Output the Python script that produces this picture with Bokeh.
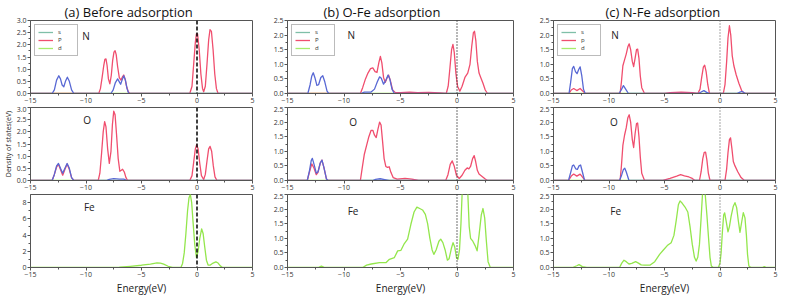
from bokeh.plotting import figure
from bokeh.layouts import row, column
from bokeh.models import Span, Legend, LegendItem, Label, Range1d, FixedTicker, NumeralTickFormatter, Title
from bokeh.embed import file_html
from bokeh.resources import INLINE

# ---------------- data ----------------
TITLES = ["(a) Before adsorption", "(b) O-Fe adsorption", "(c) N-Fe adsorption"]
ELEMENTS = ["N", "O", "Fe"]
LEGEND_LABELS = [["s", "P", "d"], ["s", "P", "d"], ["s", "p", "d"]]
X_TICKS = [-15, -10, -5, 0, 5]
X_MINOR = [-12.5, -7.5, -2.5, 2.5]
Y_MAX = [[3.0, 3.0, 9.0], [2.5, 2.5, 2.5], [2.5, 2.5, 2.5]]
Y_TICKS_3 = [0.0, 0.5, 1.0, 1.5, 2.0, 2.5, 3.0]
Y_TICKS_25 = [0.0, 0.5, 1.0, 1.5, 2.0, 2.5]
Y_TICKS_FE = [0, 2, 4, 6, 8]
XLABEL = "Energy(eV)"
YLABEL = "Density of states(eV)"

# curves as (energy, DOS) points
# (a) Before adsorption
a_N_s = [(-15, 0), (-13.05, 0), (-12.85, 0.15), (-12.65, 0.55), (-12.45, 0.73), (-12.3, 0.6), (-12.15, 0.35), (-12.0, 0.28), (-11.85, 0.5), (-11.68, 0.67), (-11.5, 0.5), (-11.3, 0.15), (-11.1, 0), (-7.75, 0), (-7.55, 0.15), (-7.35, 0.45), (-7.15, 0.6), (-7.0, 0.48), (-6.88, 0.38), (-6.75, 0.55), (-6.6, 0.73), (-6.45, 0.55), (-6.3, 0.2), (-6.15, 0), (5, 0)]
a_N_p = [(-15, 0), (-8.85, 0), (-8.7, 0.2), (-8.55, 0.65), (-8.4, 1.15), (-8.3, 1.4), (-8.2, 1.42), (-8.1, 1.15), (-7.98, 0.6), (-7.85, 0.4), (-7.72, 0.75), (-7.6, 1.35), (-7.48, 1.7), (-7.38, 1.76), (-7.28, 1.6), (-7.15, 1.1), (-7.0, 0.65), (-6.85, 0.55), (-6.72, 0.68), (-6.6, 0.76), (-6.48, 0.6), (-6.35, 0.3), (-6.2, 0.08), (-6.05, 0), (-0.65, 0), (-0.45, 0.3), (-0.3, 1.2), (-0.15, 2.1), (-0.05, 2.45), (0.05, 2.45), (0.2, 1.8), (0.35, 0.8), (0.5, 0.2), (0.6, 0.07), (0.75, 0.3), (0.9, 1.2), (1.05, 2.2), (1.17, 2.62), (1.3, 2.55), (1.45, 1.8), (1.6, 0.8), (1.75, 0.2), (1.9, 0), (5, 0)]
a_N_d = [(-15, 0), (5, 0)]
a_O_s = [(-15, 0), (-13.05, 0), (-12.85, 0.25), (-12.65, 0.6), (-12.48, 0.7), (-12.3, 0.5), (-12.1, 0.3), (-11.9, 0.5), (-11.7, 0.7), (-11.5, 0.5), (-11.3, 0.12), (-11.1, 0), (-8.2, 0), (-7.9, 0.05), (-7.5, 0.08), (-7.0, 0.06), (-6.6, 0.06), (-6.3, 0), (5, 0)]
a_O_p = [(-15, 0), (-13.05, 0), (-12.85, 0.25), (-12.65, 0.55), (-12.48, 0.67), (-12.3, 0.45), (-12.1, 0.22), (-11.9, 0.45), (-11.7, 0.68), (-11.5, 0.45), (-11.3, 0.12), (-11.1, 0), (-8.9, 0), (-8.75, 0.3), (-8.6, 1.1), (-8.45, 2.0), (-8.32, 2.42), (-8.2, 2.2), (-8.05, 1.3), (-7.9, 0.7), (-7.75, 1.2), (-7.62, 2.3), (-7.5, 2.85), (-7.38, 2.7), (-7.25, 1.9), (-7.1, 0.9), (-6.95, 0.38), (-6.82, 0.42), (-6.7, 0.46), (-6.55, 0.35), (-6.4, 0.12), (-6.25, 0), (-0.65, 0), (-0.45, 0.2), (-0.3, 0.75), (-0.15, 1.3), (-0.03, 1.47), (0.1, 1.3), (0.25, 0.7), (0.4, 0.2), (0.6, 0.04), (0.75, 0.25), (0.9, 0.8), (1.05, 1.3), (1.18, 1.4), (1.32, 1.2), (1.47, 0.6), (1.62, 0.15), (1.8, 0), (5, 0)]
a_O_d = [(-15, 0), (5, 0)]
a_Fe_d = [(-15, 0), (-8, 0), (-7, 0.05), (-6, 0.15), (-5, 0.28), (-4.2, 0.42), (-3.6, 0.58), (-3.3, 0.55), (-3.0, 0.42), (-2.6, 0.15), (-2.2, 0), (-1.45, 0), (-1.3, 0.5), (-1.15, 1.8), (-1.0, 4.2), (-0.85, 7.0), (-0.72, 8.6), (-0.6, 9.0), (-0.48, 8.0), (-0.35, 5.5), (-0.2, 2.8), (-0.05, 1.25), (0.1, 2.0), (0.25, 3.6), (0.42, 4.75), (0.55, 4.2), (0.7, 2.5), (0.85, 0.9), (1.0, 0.3), (1.2, 0.3), (1.45, 0.55), (1.7, 0.7), (1.9, 0.55), (2.1, 0.2), (2.3, 0), (5, 0)]

# (b) O-Fe adsorption
b_N_s = [(-15, 0), (-13.2, 0), (-13.0, 0.3), (-12.85, 0.6), (-12.72, 0.71), (-12.58, 0.55), (-12.4, 0.28), (-12.25, 0.3), (-12.05, 0.55), (-11.88, 0.61), (-11.7, 0.4), (-11.5, 0.08), (-11.35, 0), (-8.5, 0), (-8.2, 0.05), (-7.6, 0.05), (-7.3, 0.15), (-7.05, 0.4), (-6.85, 0.57), (-6.7, 0.52), (-6.5, 0.32), (-6.3, 0.45), (-6.1, 0.63), (-5.95, 0.5), (-5.75, 0.15), (-5.55, 0), (5, 0)]
b_N_p = [(-15, 0), (-8.55, 0), (-8.35, 0.2), (-8.1, 0.5), (-7.88, 0.7), (-7.65, 0.85), (-7.45, 0.88), (-7.25, 0.75), (-7.08, 0.72), (-6.92, 1.05), (-6.78, 1.27), (-6.65, 1.05), (-6.5, 0.55), (-6.35, 0.38), (-6.2, 0.52), (-6.05, 0.63), (-5.9, 0.45), (-5.7, 0.12), (-5.45, 0.03), (-5.0, 0.03), (-4.2, 0.05), (-3.5, 0.03), (-2.5, 0.04), (-1.5, 0.02), (-0.95, 0), (-0.78, 0.25), (-0.62, 0.9), (-0.48, 1.5), (-0.36, 1.68), (-0.24, 1.4), (-0.1, 0.7), (0.05, 0.25), (0.25, 0.08), (0.45, 0.25), (0.7, 0.55), (0.95, 0.7), (1.15, 1.0), (1.3, 1.6), (1.45, 2.08), (1.55, 2.13), (1.67, 1.8), (1.8, 1.1), (1.95, 0.7), (2.1, 0.55), (2.3, 0.35), (2.5, 0.12), (2.7, 0), (5, 0)]
b_N_d = [(-15, 0), (5, 0)]
b_O_s = [(-15, 0), (-13.25, 0), (-13.05, 0.35), (-12.9, 0.68), (-12.8, 0.76), (-12.65, 0.55), (-12.45, 0.25), (-12.3, 0.3), (-12.1, 0.6), (-11.95, 0.7), (-11.78, 0.45), (-11.55, 0.05), (-11.4, 0), (-7.5, 0), (-7.2, 0.04), (-6.8, 0.06), (-6.4, 0.03), (-6.0, 0), (5, 0)]
b_O_p = [(-15, 0), (-13.25, 0), (-13.05, 0.3), (-12.85, 0.57), (-12.65, 0.42), (-12.45, 0.2), (-12.3, 0.28), (-12.1, 0.6), (-11.95, 0.7), (-11.78, 0.45), (-11.55, 0.05), (-11.4, 0), (-8.55, 0), (-8.4, 0.4), (-8.2, 0.9), (-8.0, 1.2), (-7.8, 1.5), (-7.6, 1.72), (-7.45, 1.72), (-7.3, 1.55), (-7.15, 1.47), (-7.0, 1.75), (-6.85, 2.0), (-6.72, 1.9), (-6.6, 1.4), (-6.45, 0.75), (-6.3, 0.48), (-6.15, 0.45), (-6.0, 0.47), (-5.85, 0.28), (-5.65, 0.1), (-5.3, 0.05), (-4.6, 0.07), (-4.0, 0.05), (-3.4, 0), (-1.0, 0), (-0.8, 0.2), (-0.6, 0.55), (-0.42, 0.67), (-0.25, 0.5), (-0.05, 0.18), (0.2, 0.07), (0.45, 0.18), (0.7, 0.35), (0.9, 0.43), (1.05, 0.4), (1.2, 0.48), (1.38, 0.75), (1.52, 0.85), (1.65, 0.65), (1.8, 0.35), (1.95, 0.22), (2.25, 0.13), (2.5, 0.05), (2.7, 0), (5, 0)]
b_O_d = [(-15, 0), (5, 0)]
b_Fe_d = [(-15, 0), (-12.3, 0), (-12.0, 0.05), (-11.7, 0), (-8.35, 0), (-8.0, 0.08), (-7.59, 0.12), (-6.86, 0.17), (-6.27, 0.17), (-5.98, 0.28), (-5.54, 0.34), (-5.25, 0.57), (-4.96, 0.59), (-4.66, 0.82), (-4.37, 0.97), (-4.08, 1.48), (-3.8, 1.9), (-3.55, 2.07), (-3.3, 2.02), (-3.05, 1.97), (-2.8, 1.82), (-2.6, 1.5), (-2.4, 1.0), (-2.2, 0.6), (-2.05, 0.45), (-1.85, 0.6), (-1.6, 0.9), (-1.44, 0.97), (-1.25, 0.85), (-1.05, 0.6), (-0.85, 0.25), (-0.7, 0.3), (-0.5, 0.65), (-0.35, 0.85), (-0.2, 0.7), (-0.05, 0.35), (0.08, 0.28), (0.22, 0.6), (0.35, 1.5), (0.46, 2.6), (0.6, 3.3), (0.8, 3.3), (0.95, 2.6), (1.08, 1.4), (1.2, 1.0), (1.4, 0.9), (1.6, 0.75), (1.78, 0.57), (1.95, 1.1), (2.15, 1.8), (2.3, 2.02), (2.45, 1.7), (2.6, 0.9), (2.75, 0.2), (2.95, 0), (5, 0)]

# (c) N-Fe adsorption
c_N_s = [(-15, 0), (-13.6, 0), (-13.45, 0.4), (-13.3, 0.85), (-13.18, 0.93), (-13.02, 0.75), (-12.88, 0.68), (-12.73, 0.82), (-12.6, 0.91), (-12.45, 0.6), (-12.3, 0.15), (-12.15, 0), (-9.1, 0), (-8.9, 0.12), (-8.7, 0.27), (-8.5, 0.15), (-8.25, 0), (-2.0, 0), (-1.7, 0.05), (-1.45, 0.1), (-1.2, 0.04), (-0.9, 0), (1.5, 0), (1.8, 0.05), (2.0, 0.07), (2.3, 0), (5, 0)]
c_N_p = [(-15, 0), (-13.6, 0), (-13.4, 0.12), (-13.18, 0.17), (-12.9, 0.1), (-12.6, 0.17), (-12.35, 0.08), (-12.15, 0), (-9.0, 0), (-8.88, 0.4), (-8.75, 0.95), (-8.6, 1.15), (-8.45, 1.35), (-8.3, 1.6), (-8.18, 1.7), (-8.05, 1.5), (-7.9, 1.1), (-7.78, 0.92), (-7.65, 1.2), (-7.52, 1.5), (-7.42, 1.52), (-7.3, 1.2), (-7.18, 0.6), (-7.05, 0.2), (-6.8, 0), (-5.0, 0), (-4.5, 0.03), (-3.5, 0.05), (-2.5, 0.03), (-2.0, 0), (-1.8, 0.15), (-1.65, 0.55), (-1.5, 0.9), (-1.38, 0.97), (-1.25, 0.75), (-1.1, 0.3), (-0.95, 0), (0.3, 0), (0.45, 0.3), (0.6, 1.1), (0.72, 1.9), (0.85, 2.32), (0.97, 2.0), (1.1, 1.3), (1.25, 0.95), (1.45, 0.65), (1.7, 0.35), (1.95, 0.1), (2.2, 0), (5, 0)]
c_N_d = [(-15, 0), (5, 0)]
c_O_s = [(-15, 0), (-13.65, 0), (-13.45, 0.28), (-13.3, 0.5), (-13.18, 0.53), (-13.0, 0.4), (-12.85, 0.38), (-12.7, 0.5), (-12.56, 0.53), (-12.4, 0.3), (-12.2, 0), (-9.05, 0), (-8.85, 0.2), (-8.7, 0.38), (-8.58, 0.42), (-8.45, 0.3), (-8.2, 0), (5, 0)]
c_O_p = [(-15, 0), (-13.65, 0), (-13.4, 0.15), (-13.18, 0.22), (-12.9, 0.15), (-12.6, 0.22), (-12.35, 0.1), (-12.15, 0), (-9.0, 0), (-8.88, 0.5), (-8.75, 1.2), (-8.6, 1.55), (-8.45, 1.8), (-8.3, 2.15), (-8.18, 2.25), (-8.05, 2.0), (-7.9, 1.4), (-7.78, 1.13), (-7.65, 1.6), (-7.52, 1.95), (-7.42, 1.97), (-7.3, 1.5), (-7.18, 0.8), (-7.05, 0.25), (-6.8, 0), (-5.15, 0), (-4.5, 0.07), (-3.9, 0.15), (-3.55, 0.2), (-3.2, 0.16), (-2.8, 0.12), (-2.5, 0.07), (-2.25, 0), (-1.85, 0), (-1.7, 0.3), (-1.55, 0.75), (-1.42, 0.96), (-1.3, 0.97), (-1.18, 0.7), (-1.05, 0.25), (-0.9, 0), (0.45, 0), (0.6, 0.4), (0.72, 0.95), (0.85, 1.4), (0.95, 1.46), (1.07, 1.1), (1.2, 0.65), (1.35, 0.5), (1.6, 0.3), (1.9, 0.1), (2.2, 0), (5, 0)]
c_O_d = [(-15, 0), (5, 0)]
c_Fe_d = [(-15, 0), (-13.3, 0), (-12.9, 0.06), (-12.7, 0.1), (-12.4, 0.03), (-12.0, 0), (-9.05, 0), (-8.85, 0.15), (-8.65, 0.25), (-8.45, 0.2), (-8.2, 0.12), (-7.95, 0.14), (-7.6, 0.2), (-7.35, 0.15), (-7.1, 0.09), (-6.8, 0.08), (-6.32, 0.08), (-5.88, 0.2), (-5.44, 0.45), (-5.1, 0.6), (-4.75, 0.75), (-4.4, 0.85), (-4.15, 1.1), (-3.95, 1.6), (-3.75, 2.15), (-3.6, 2.28), (-3.4, 2.2), (-3.15, 2.07), (-2.9, 1.9), (-2.7, 1.4), (-2.5, 0.8), (-2.3, 0.35), (-2.15, 0.22), (-2.0, 0.35), (-1.85, 0.8), (-1.7, 1.7), (-1.58, 2.5), (-1.45, 2.6), (-1.33, 2.5), (-1.18, 1.8), (-1.03, 1.0), (-0.9, 0.35), (-0.78, 0.05), (-0.6, 0), (-0.15, 0), (0.0, 0.15), (0.1, 0.5), (0.22, 1.25), (0.33, 1.8), (0.42, 1.87), (0.55, 1.6), (0.72, 1.22), (0.85, 1.4), (1.0, 1.75), (1.2, 2.1), (1.35, 2.22), (1.5, 2.05), (1.65, 1.6), (1.8, 1.2), (1.95, 1.55), (2.1, 1.88), (2.25, 1.7), (2.38, 1.1), (2.48, 0.45), (2.6, 0.05), (2.8, 0), (3.8, 0), (4.0, 0.03), (4.2, 0), (5, 0)]

# element label positions (data units) per column / row
ELEM_LABEL_X = [[-10.0, -9.9, -9.7], [-9.35, -9.2, -9.2], [-9.45, -9.55, -9.4]]
ELEM_LABEL_Y = [[2.38, 2.5, 7.4], [2.0, 2.0, 1.95], [2.0, 2.0, 1.94]]

CURVES = {
    (0, 0): [(a_N_d, "d"), (a_N_p, "p"), (a_N_s, "s")],
    (0, 1): [(a_O_d, "d"), (a_O_p, "p"), (a_O_s, "s")],
    (0, 2): [(a_Fe_d, "d")],
    (1, 0): [(b_N_d, "d"), (b_N_p, "p"), (b_N_s, "s")],
    (1, 1): [(b_O_d, "d"), (b_O_p, "p"), (b_O_s, "s")],
    (1, 2): [(b_Fe_d, "d")],
    (2, 0): [(c_N_d, "d"), (c_N_p, "p"), (c_N_s, "s")],
    (2, 1): [(c_O_d, "d"), (c_O_p, "p"), (c_O_s, "s")],
    (2, 2): [(c_Fe_d, "d")],
}

# ---------------- style ----------------
FONT = "Open Sans"
COLORS = {"s": "#5868d4", "p": "#f04e6e", "d": "#93e64c"}
LEGEND_COLORS = {"s": "#7fbfa8", "p": "#f04e6e", "d": "#a6ec6c"}
AXIS_COLOR = "#555555"
FRAME_W = [222, 226, 222]
BORDER_L = [26, 25, 28]
BORDER_R = [10, 12, 3]
FRAME_H = [73, 73, 73]
BORDER_T = [15, 1, 1]
BORDER_B = [13, 13, 26]
TITLE_OFFSET = [34, 36, 52]
SPAN_STYLE = [("#000000", "4 2", 1.5), ("#222222", "1 2", 1.3), ("#777777", "1 2", 1.3)]
NAN = float("nan")


def make_panel(ci, ri):
    ymax = Y_MAX[ci][ri]
    p = figure(frame_width=FRAME_W[ci], frame_height=FRAME_H[ri],
               x_range=Range1d(-15, 5), y_range=Range1d(0, ymax),
               min_border_left=BORDER_L[ci], min_border_right=BORDER_R[ci],
               min_border_top=BORDER_T[ri], min_border_bottom=BORDER_B[ri],
               output_backend="svg", toolbar_location=None, title=None,
               background_fill_color="white", border_fill_color="white")
    p.grid.visible = False
    p.outline_line_color = AXIS_COLOR
    p.outline_line_width = 1

    p.xaxis.ticker = FixedTicker(ticks=X_TICKS, minor_ticks=X_MINOR)
    if ci == 0 and ri == 2:
        yt = Y_TICKS_FE
        p.yaxis.ticker = FixedTicker(ticks=yt, minor_ticks=[1, 3, 5, 7])
        p.yaxis.formatter = NumeralTickFormatter(format="0")
    else:
        yt = Y_TICKS_3 if ymax == 3.0 else Y_TICKS_25
        p.yaxis.ticker = FixedTicker(ticks=yt, minor_ticks=[v + 0.25 for v in yt[:-1]])
        p.yaxis.formatter = NumeralTickFormatter(format="0.0")

    for ax in (p.xaxis[0], p.yaxis[0]):
        ax.axis_line_color = AXIS_COLOR
        ax.major_tick_line_color = AXIS_COLOR
        ax.minor_tick_line_color = AXIS_COLOR
        ax.major_tick_out = 3
        ax.major_tick_in = 0
        ax.minor_tick_out = 2
        ax.minor_tick_in = 0
        ax.major_label_text_font = FONT
        ax.major_label_text_font_size = "7px"
        ax.major_label_text_color = "#333333"
        ax.major_label_standoff = 1

    if ri == 2:
        p.xaxis.axis_label = XLABEL
        p.xaxis.axis_label_text_font = FONT
        p.xaxis.axis_label_text_font_size = "10px"
        p.xaxis.axis_label_text_font_style = "normal"
        p.xaxis.axis_label_text_color = "#222222"
        p.xaxis.axis_label_standoff = 1
    if ci == 0 and ri == 1:
        p.yaxis.axis_label = YLABEL
        p.yaxis.axis_label_text_font = FONT
        p.yaxis.axis_label_text_font_size = "7px"
        p.yaxis.axis_label_text_font_style = "normal"
        p.yaxis.axis_label_text_color = "#222222"
        p.yaxis.axis_label_standoff = 1

    for pts, kind in CURVES[(ci, ri)]:
        xs = [pt[0] for pt in pts]
        ys = [pt[1] for pt in pts]
        p.line(xs, ys, line_color=COLORS[kind], line_width=1.3, line_join="round")

    col, dash, lw = SPAN_STYLE[ci]
    p.add_layout(Span(location=0, dimension="height", line_color=col, line_dash=dash, line_width=lw))

    p.add_layout(Label(x=ELEM_LABEL_X[ci][ri], y=ELEM_LABEL_Y[ci][ri], text=ELEMENTS[ri],
                       text_font=FONT, text_font_size="10px", text_color="#222222",
                       text_align="center", text_baseline="middle"))

    if ri == 0:
        items = []
        for kind, lab in zip(["s", "p", "d"], LEGEND_LABELS[ci]):
            r = p.line([NAN], [NAN], line_color=LEGEND_COLORS[kind], line_width=1.3)
            items.append(LegendItem(label=lab, renderers=[r]))
        leg = Legend(items=items, location="top_left", margin=4,
                     label_text_font=FONT, label_text_font_size="6px", label_text_color="#333333",
                     label_height=6, glyph_height=6, glyph_width=15, label_width=16,
                     label_standoff=5, spacing=0, padding=3,
                     border_line_color="#777777", border_line_width=1,
                     background_fill_color="white", background_fill_alpha=1.0)
        p.add_layout(leg)
        t = Title(text=TITLES[ci], align="left", offset=TITLE_OFFSET[ci],
                  text_font=FONT, text_font_size="13px", text_font_style="normal",
                  text_color="#111111", standoff=0)
        p.add_layout(t, "above")
    return p


cols = []
for ci in range(3):
    cols.append(column([make_panel(ci, ri) for ri in range(3)], spacing=0))
layout = row(cols, spacing=0)

html = file_html(layout, INLINE, title="DOS")
with open("out.html", "w") as f:
    f.write(html)
